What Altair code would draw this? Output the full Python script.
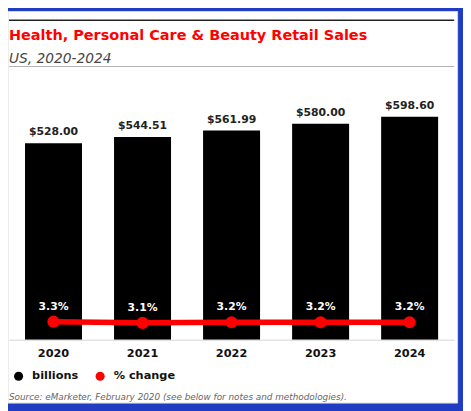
import altair as alt
import pandas as pd

# values
years = ["2020", "2021", "2022", "2023", "2024"]
sales = [528.00, 544.51, 561.99, 580.00, 598.60]
sales_text = ["$528.00", "$544.51", "$561.99", "$580.00", "$598.60"]
pct_change = [3.3, 3.1, 3.2, 3.2, 3.2]
pct_text = ["3.3%", "3.1%", "3.2%", "3.2%", "3.2%"]
series = ["billions", "% change"]

title_text = "Health, Personal Care & Beauty Retail Sales"
subtitle_text = "US, 2020-2024"
source_text = "Source: eMarketer, February 2020 (see below for notes and methodologies)."

FONT = "DejaVu Sans"

data = pd.DataFrame({
    "year": years,
    "sales": sales,
    "sales_text": sales_text,
    "pct": pct_change,
    "pct_text": pct_text,
    "series": "billions",
})
one = pd.DataFrame({"k": [0]})

# shared x encoding
x_enc = alt.X(
    "year:N",
    title=None,
    scale=alt.Scale(paddingInner=0.36, paddingOuter=0.18),
    axis=alt.Axis(labelAngle=0, labelFont=FONT, labelFontSize=11.5, labelFontWeight="bold",
                  labelColor="#111", ticks=False, domainColor="#d4d4d4", domainWidth=1,
                  labelPadding=8, zindex=1),
)
y_sales = alt.Y("sales:Q", scale=alt.Scale(domain=[0, 718]), axis=None)
y_pct = alt.Y("pct:Q", scale=alt.Scale(domain=[0, 49]), axis=None)

# card and header decoration
card = alt.Chart(one).mark_rect(fill="white", stroke="#d8d8d8", strokeWidth=1).encode(
    x=alt.value(-1), x2=alt.value(456.5), y=alt.value(-62), y2=alt.value(336.5)
)
top_rule = alt.Chart(one).mark_rule(color="#222", strokeWidth=1.5).encode(
    x=alt.value(0), x2=alt.value(453), y=alt.value(-53)
)
sub_rule = alt.Chart(one).mark_rule(color="#b0b0b0", strokeWidth=1).encode(
    x=alt.value(0), x2=alt.value(453), y=alt.value(-6)
)
title = alt.Chart(one).mark_text(
    align="left", baseline="alphabetic", font=FONT, fontSize=14.7, fontWeight="bold", color="#ff0000"
).encode(x=alt.value(0), y=alt.value(-33.3), text=alt.value(title_text))
subtitle = alt.Chart(one).mark_text(
    align="left", baseline="alphabetic", font=FONT, fontSize=14, fontStyle="italic", color="#444"
).encode(x=alt.value(0), y=alt.value(-10), text=alt.value(subtitle_text))
source = alt.Chart(one).mark_text(
    align="left", baseline="middle", font=FONT, fontSize=9, fontStyle="italic", color="#666"
).encode(x=alt.value(0), y=alt.value(330.5), text=alt.value(source_text))

# bars + value labels
bars = alt.Chart(data).mark_bar().encode(
    x=x_enc,
    y=y_sales,
    color=alt.Color(
        "series:N",
        scale=alt.Scale(domain=series, range=["#000000", "#ff0000"]),
        legend=alt.Legend(title=None, orient="none", legendX=4, legendY=303, direction="horizontal",
                          symbolType="circle", symbolSize=85, symbolStrokeWidth=0,
                          labelFont=FONT, labelFontSize=11.5, labelFontWeight="bold",
                          labelColor="#111", labelOffset=8, columnPadding=16, padding=0),
    ),
)
bar_labels = alt.Chart(data).mark_text(
    dy=-11, baseline="middle", font=FONT, fontSize=11, fontWeight="bold", color="#222"
).encode(x="year:N", y=y_sales, text="sales_text:N")

# % change line + labels
line = alt.Chart(data).mark_line(
    color="#ff0000", strokeWidth=5.5,
    point=alt.OverlayMarkDef(color="#ff0000", size=155, filled=True, opacity=1),
).encode(x="year:N", y=y_pct)
line_labels = alt.Chart(data).mark_text(
    dy=-15, baseline="middle", font=FONT, fontSize=11, fontWeight="bold", color="white"
).encode(x="year:N", y=y_pct, text="pct_text:N")

chart = alt.layer(
    card, top_rule, sub_rule, title, subtitle, source,
    alt.layer(bars, bar_labels),
    alt.layer(line, line_labels),
).resolve_scale(y="independent").properties(
    width=453,
    height=272,
    padding={"left": 1, "top": 62, "right": 9, "bottom": 69},
    autosize=alt.AutoSizeParams(type="none"),
    background="#1f3cc2",
).configure_view(stroke=None)

chart.save("out.html", embed_options={"renderer": "svg", "actions": False})
